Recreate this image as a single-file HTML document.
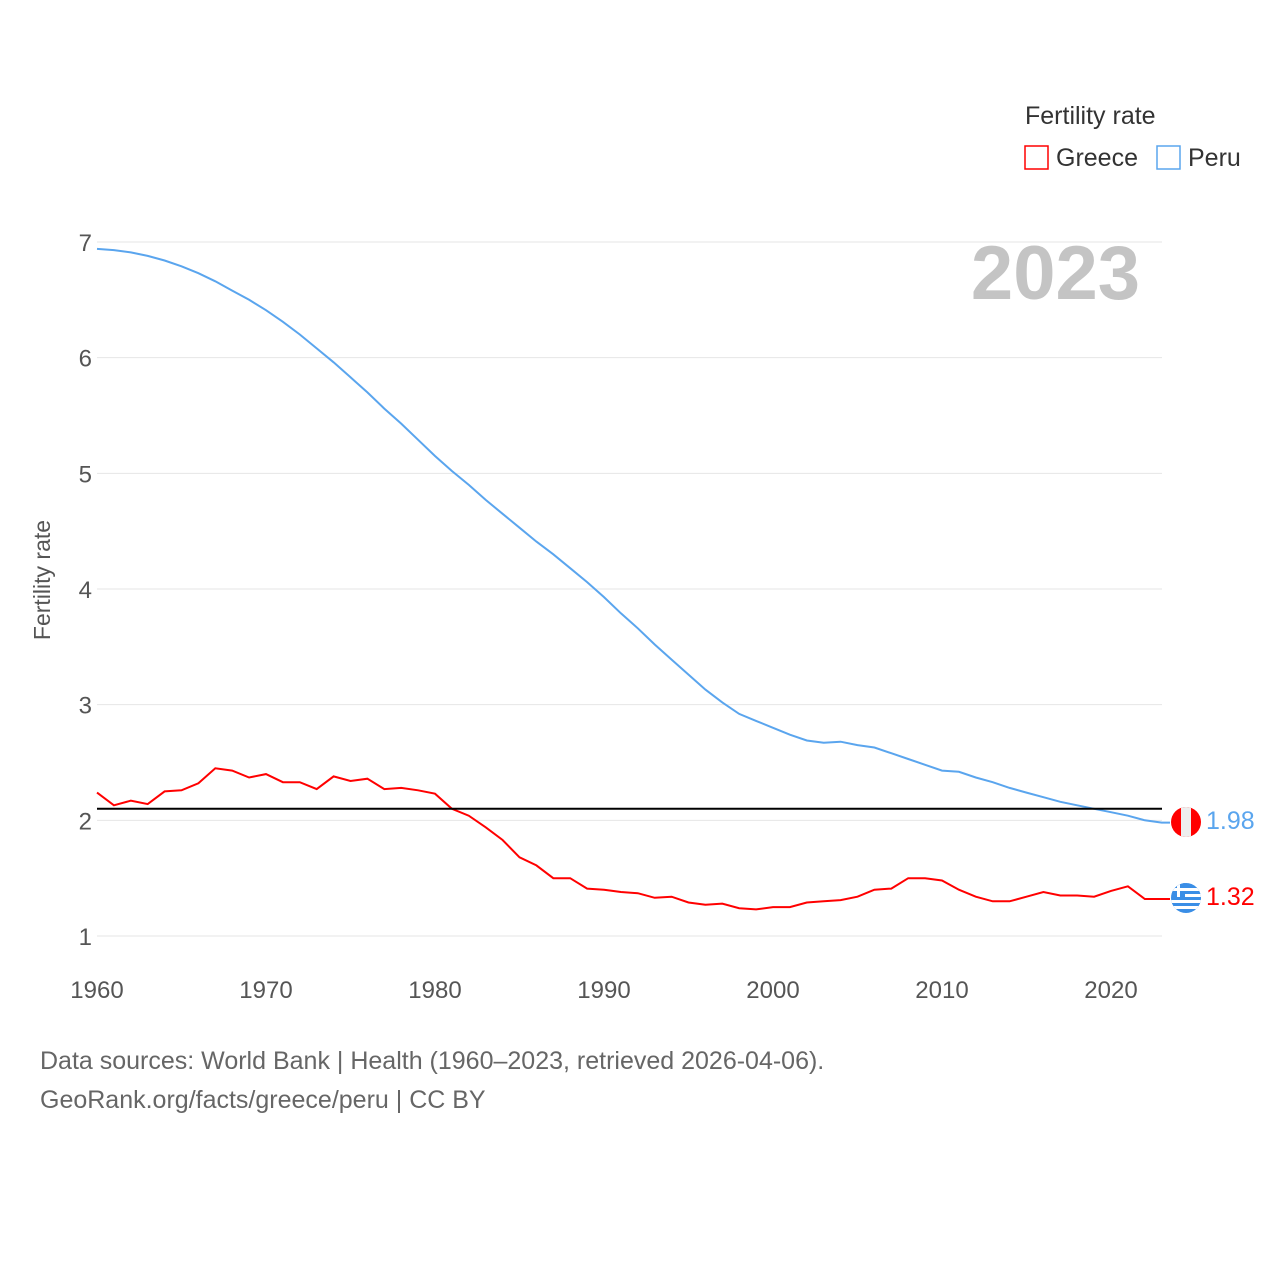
<!DOCTYPE html>
<html><head><meta charset="utf-8">
<style>
body{margin:0;background:#fff;}
svg text{font-family:"Liberation Sans",sans-serif;}
</style></head>
<body>
<svg id="chart" width="1280" height="1280" xmlns="http://www.w3.org/2000/svg">
<defs>
<clipPath id="cPe"><circle cx="1186" cy="822" r="15"/></clipPath>
<clipPath id="cGr"><circle cx="1186" cy="898" r="15"/></clipPath>
</defs>
<g id="grid"></g>
<g id="xt"></g>
<text x="50" y="580" transform="rotate(-90 50 580)" text-anchor="middle" font-size="23" fill="#555">Fertility rate</text>
<text x="1140" y="299" text-anchor="end" font-size="76" font-weight="bold" fill="#c4c4c4">2023</text>
<g>
<text x="1025" y="124" font-size="25" fill="#333">Fertility rate</text>
<g><rect x="1025" y="146" width="23" height="23" fill="none" stroke="#f00" stroke-width="1.5"/><text x="1056" y="166" font-size="25" fill="#333">Greece</text></g>
<g><rect x="1157" y="146" width="23" height="23" fill="none" stroke="#5aa5ee" stroke-width="1.5"/><text x="1188" y="166" font-size="25" fill="#333">Peru</text></g>
</g>
<path id="pe" fill="none" stroke="#5aa5ee" stroke-width="2"/>
<path id="gr" fill="none" stroke="#f00" stroke-width="2"/>
<line id="ref" x1="97" x2="1162" stroke="#000" stroke-width="2"/>
<g clip-path="url(#cPe)"><rect x="1171" y="807" width="30" height="30" fill="#f00"/><rect x="1181" y="807" width="10" height="30" fill="#eee"/></g>
<g clip-path="url(#cGr)"><rect x="1171" y="883" width="30" height="30" fill="#3a8ee6"/><rect x="1171" y="888" width="30" height="3" fill="#fff"/><rect x="1171" y="894" width="30" height="3" fill="#fff"/><rect x="1171" y="900" width="30" height="3" fill="#fff"/><rect x="1171" y="906" width="30" height="3" fill="#fff"/><rect x="1171" y="883" width="14" height="14" fill="#3a8ee6"/><rect x="1171" y="888" width="14" height="3" fill="#fff"/><rect x="1177" y="883" width="3" height="14" fill="#fff"/></g>
<text id="peV" x="1206" y="829" font-size="25" fill="#5aa5ee"></text>
<text id="grV" x="1206" y="905" font-size="25" fill="#f00"></text>
<text x="40" y="1069" font-size="25" fill="#666">Data sources: World Bank | Health (1960–2023, retrieved 2026-04-06).</text>
<text x="40" y="1108" font-size="25" fill="#666">GeoRank.org/facts/greece/peru | CC BY</text>
</svg>
<script>
const years=[];for(let y=1960;y<=2023;y++)years.push(y);
const greece=[2.24,2.13,2.17,2.14,2.25,2.26,2.32,2.45,2.43,2.37,2.40,2.33,2.33,2.27,2.38,2.34,2.36,2.27,2.28,2.26,2.23,2.10,2.04,1.94,1.83,1.68,1.61,1.50,1.50,1.41,1.40,1.38,1.37,1.33,1.34,1.29,1.27,1.28,1.24,1.23,1.25,1.25,1.29,1.30,1.31,1.34,1.40,1.41,1.50,1.50,1.48,1.40,1.34,1.30,1.30,1.34,1.38,1.35,1.35,1.34,1.39,1.43,1.32,1.32];
const peru=[6.94,6.93,6.91,6.88,6.84,6.79,6.73,6.66,6.58,6.50,6.41,6.31,6.20,6.08,5.96,5.83,5.70,5.56,5.43,5.29,5.15,5.02,4.90,4.77,4.65,4.53,4.41,4.30,4.18,4.06,3.93,3.79,3.66,3.52,3.39,3.26,3.13,3.02,2.92,2.86,2.80,2.74,2.69,2.67,2.68,2.65,2.63,2.58,2.53,2.48,2.43,2.42,2.37,2.33,2.28,2.24,2.20,2.16,2.13,2.10,2.07,2.04,2.00,1.98];
const yTicks=[1,2,3,4,5,6,7];
const xTicks=[1960,1970,1980,1990,2000,2010,2020];
const refRate=2.1;
const X=y=>97+(y-1960)*(1111-97)/60;
const Y=v=>936-(v-1)*(936-242)/6;
const ns="http://www.w3.org/2000/svg";
const grid=document.getElementById('grid'),xt=document.getElementById('xt');
yTicks.forEach(t=>{
 const l=document.createElementNS(ns,'line');
 l.setAttribute('x1',97);l.setAttribute('x2',1162);l.setAttribute('y1',Y(t));l.setAttribute('y2',Y(t));
 l.setAttribute('stroke','#e6e6e6');l.setAttribute('stroke-width','1');
 
 
 grid.appendChild(l);
 const tx=document.createElementNS(ns,'text');
 tx.setAttribute('x',92);tx.setAttribute('y',Y(t)+9);tx.setAttribute('text-anchor','end');
 tx.setAttribute('font-size','24');tx.setAttribute('fill','#555');tx.textContent=t;
 
 
 grid.appendChild(tx);
});
xTicks.forEach(t=>{
 const tx=document.createElementNS(ns,'text');
 tx.setAttribute('x',X(t));tx.setAttribute('y',998);tx.setAttribute('text-anchor','middle');
 tx.setAttribute('font-size','24');tx.setAttribute('fill','#555');tx.textContent=t;
 
 
 xt.appendChild(tx);
});
const path=a=>a.map((v,i)=>(i?'L':'M')+X(years[i]).toFixed(1)+' '+Y(v).toFixed(1)).join(' ');
document.getElementById('pe').setAttribute('d',path(peru)+' L1170 '+Y(peru[peru.length-1]).toFixed(1));
document.getElementById('gr').setAttribute('d',path(greece)+' L1170 '+Y(greece[greece.length-1]).toFixed(1));
const r=document.getElementById('ref');r.setAttribute('y1',Y(refRate));r.setAttribute('y2',Y(refRate));
document.getElementById('peV').textContent=peru[peru.length-1].toFixed(2);
document.getElementById('grV').textContent=greece[greece.length-1].toFixed(2);
</script>
</body></html>
